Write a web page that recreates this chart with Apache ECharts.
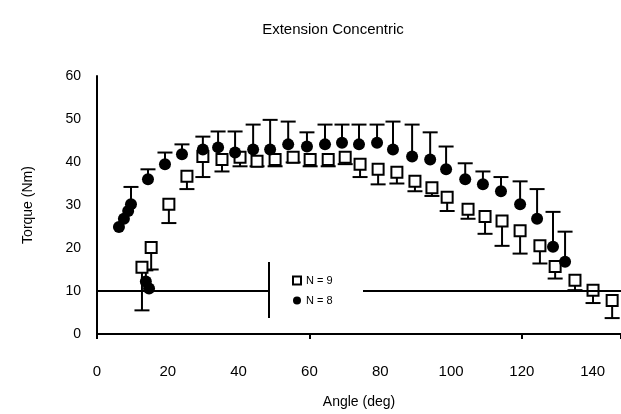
<!DOCTYPE html>
<html>
<head>
<meta charset="utf-8">
<script src="https://cdn.jsdelivr.net/npm/echarts@6/dist/echarts.min.js"></script>
<style>
html,body{margin:0;padding:0;background:#fff;}
#c{width:621px;height:414px;}
</style>
</head>
<body>
<div id="c"></div>
<script>
const titleText = 'Extension Concentric';
const xName = 'Angle (deg)';
const yName = 'Torque (Nm)';
const seriesNames = ['N = 9', 'N = 8'];
const xTicks = { min: 0, max: 148, interval: 20 };
const yTicks = { min: 0, max: 60, interval: 10 };
const refLine = 10;

// open squares: angle, torque, lower error bar end
const sqX   = [12.7, 15.3, 20.3, 25.4, 29.9, 35.3, 40.4, 45.2, 50.3, 55.4, 60.2, 65.3, 70.1, 74.3, 79.4, 84.7, 89.8, 94.6, 98.9, 104.8, 109.6, 114.4, 119.5, 125.1, 129.4, 135.0, 140.1, 145.5];
const sqY   = [15.5, 20.1, 30.2, 36.7, 41.3, 40.6, 41.1, 40.2, 40.6, 41.1, 40.6, 40.6, 41.1, 39.5, 38.3, 37.6, 35.5, 34.0, 31.8, 29.0, 27.3, 26.3, 24.0, 20.5, 15.7, 12.5, 10.2, 7.8];
const sqLow = [5.5, 15.0, 25.8, 33.7, 36.5, 37.8, 39.0, 39.0, 39.0, 39.9, 39.0, 39.0, 39.5, 36.5, 34.8, 35.0, 33.2, 32.1, 28.6, 26.8, 23.3, 20.5, 18.7, 16.4, 12.9, 10.2, 7.2, 3.7];

// filled circles: angle, torque, upper error bar end
const ciX    = [6.2, 7.6, 8.8, 9.6, 13.8, 14.7, 14.4, 19.2, 24.0, 29.9, 34.2, 39.0, 44.1, 48.9, 54.0, 59.3, 64.4, 69.2, 74.0, 79.1, 83.6, 89.0, 94.1, 98.6, 104.0, 109.0, 114.1, 119.5, 124.3, 128.8, 132.2];
const ciY    = [24.9, 26.8, 28.6, 30.2, 12.2, 10.6, 36.0, 39.5, 41.8, 42.9, 43.4, 42.2, 42.9, 42.9, 44.1, 43.6, 44.1, 44.5, 44.1, 44.5, 42.9, 41.3, 40.6, 38.3, 36.0, 34.8, 33.2, 30.2, 26.8, 20.3, 16.8];
const ciHigh = [24.9, 26.8, 28.6, 34.2, 14.8, 10.6, 38.3, 42.2, 44.1, 45.9, 47.1, 47.1, 48.7, 49.8, 49.4, 46.9, 48.7, 48.7, 48.7, 48.7, 49.4, 48.7, 46.9, 43.6, 39.7, 37.8, 36.5, 35.5, 33.7, 28.4, 23.8];

const FONT = 'Liberation Sans';

function errData(xs, ys, ends) {
  return xs.map((x, i) => [x, ys[i], ends[i]]);
}
function errRender(params, api) {
  const x = api.value(0), y = api.value(1), e = api.value(2);
  if (Math.abs(e - y) < 1e-6) return null;
  const p0 = api.coord([x, y]);
  const p1 = api.coord([x, e]);
  const cap = 7.5;
  const st = { stroke: '#000', lineWidth: 2 };
  return {
    type: 'group',
    children: [
      { type: 'line', shape: { x1: p0[0], y1: p0[1], x2: p1[0], y2: p1[1] }, style: st },
      { type: 'line', shape: { x1: p1[0] - cap, y1: p1[1], x2: p1[0] + cap, y2: p1[1] }, style: st }
    ]
  };
}

const chart = echarts.init(document.getElementById('c'), null, { renderer: 'canvas' });
chart.setOption({
  animation: false,
  backgroundColor: '#fff',
  textStyle: { fontFamily: FONT, color: '#000' },
  title: {
    text: titleText, left: 328, top: 17, textAlign: 'center',
    textStyle: { fontFamily: FONT, fontSize: 15, fontWeight: 'normal', color: '#000' }
  },
  grid: { left: 97, right: 0, top: 76, bottom: 78, containLabel: false },
  xAxis: [{
    type: 'value', min: xTicks.min, max: xTicks.max, interval: xTicks.interval,
    name: xName, nameLocation: 'middle', nameGap: 61,
    nameTextStyle: { fontFamily: FONT, fontSize: 14, color: '#000' },
    axisLine: { show: true, onZero: false, lineStyle: { color: '#000', width: 2 } },
    axisTick: { show: false },
    axisLabel: { fontFamily: FONT, fontSize: 15, color: '#000', margin: 30, showMaxLabel: false },
    splitLine: { show: false }
  }, {
    type: 'value', min: xTicks.min, max: xTicks.max, interval: 60, position: 'bottom',
    axisLine: { show: false }, axisLabel: { show: false },
    axisTick: { show: true, length: 5, lineStyle: { color: '#000', width: 2 } },
    splitLine: { show: false }
  }],
  yAxis: {
    type: 'value', min: yTicks.min, max: yTicks.max, interval: yTicks.interval,
    name: yName, nameLocation: 'middle', nameGap: 62, nameRotate: 90,
    nameTextStyle: { fontFamily: FONT, fontSize: 14, color: '#000' },
    axisLine: { show: true, lineStyle: { color: '#000', width: 2 } },
    axisTick: { show: false },
    axisLabel: { fontFamily: FONT, fontSize: 14, color: '#000', margin: 16 },
    splitLine: { show: false }
  },
  legend: {
    orient: 'vertical', left: 287, top: 270, itemGap: 9, itemWidth: 8, itemHeight: 8, z: 20,
    textStyle: { fontFamily: FONT, fontSize: 11, color: '#000' },
    data: seriesNames
  },
  graphic: [
    { type: 'rect', z: 10, shape: { x: 270, y: 262, width: 93, height: 56 }, style: { fill: '#fff' } },
    { type: 'line', z: 11, shape: { x1: 269, y1: 262, x2: 269, y2: 318 }, style: { stroke: '#000', lineWidth: 2 } }
  ],
  series: [
    {
      type: 'custom', name: 'errSq', renderItem: errRender, z: 1, silent: true,
      data: errData(sqX, sqY, sqLow), encode: { x: 0, y: [1, 2] }
    },
    {
      type: 'custom', name: 'errCi', renderItem: errRender, z: 1, silent: true,
      data: errData(ciX, ciY, ciHigh), encode: { x: 0, y: [1, 2] }
    },
    {
      type: 'scatter', name: seriesNames[0], symbol: 'rect', symbolSize: 11, z: 3,
      itemStyle: { color: '#fff', borderColor: '#000', borderWidth: 2, opacity: 1 },
      data: sqX.map((x, i) => [x, sqY[i]]),
      markLine: {
        silent: true, symbol: ['none', 'none'], label: { show: false },
        lineStyle: { color: '#000', width: 2, type: 'solid' },
        data: [{ yAxis: refLine }]
      }
    },
    {
      type: 'scatter', name: seriesNames[1], symbol: 'circle', symbolSize: 12, z: 4,
      itemStyle: { color: '#000', borderColor: '#000', borderWidth: 0, opacity: 1 },
      data: ciX.map((x, i) => [x, ciY[i]])
    }
  ]
});
</script>
</body>
</html>
